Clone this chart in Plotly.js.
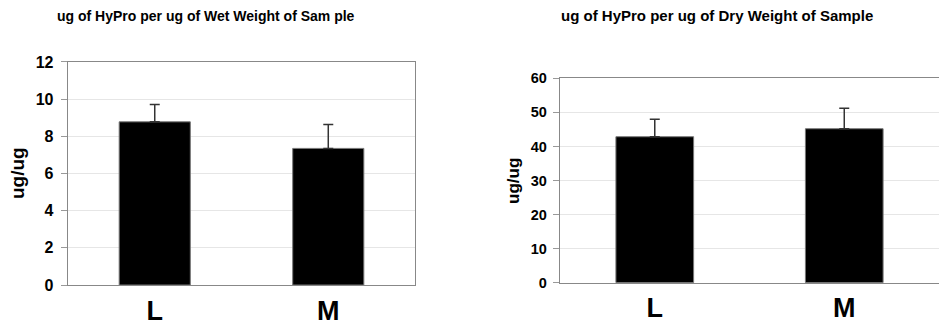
<!DOCTYPE html>
<html><head><meta charset="utf-8">
<script src="https://cdn.plot.ly/plotly-3.0.1.min.js"></script>
<style>html,body{margin:0;padding:0;background:#fff}#c{width:939px;height:329px}</style>
</head><body><div id="c"></div>
<script>
const categories = ['L', 'M'];
const wetValues = [8.78, 7.35];
const wetErrors = [0.93, 1.29];
const dryValues = [42.85, 45.2];
const dryErrors = [5.1, 6.0];
const wetTitle = 'ug of HyPro per ug of Wet Weight of Sam ple';
const dryTitle = 'ug of HyPro per ug of Dry Weight of Sample';
const yLabel = 'ug/ug';

const F = 'Liberation Sans, Arial, sans-serif';
function bar(x, y, err, xa, ya) {
  return {
    type: 'bar', x: x, y: y, xaxis: xa, yaxis: ya,
    width: 0.41,
    marker: {color: '#000', line: {color: '#777', width: 1}},
    error_y: {type: 'data', array: err, symmetric: false, arrayminus: err.map(() => 0),
      color: '#333', thickness: 1.5, width: 5},
    hoverinfo: 'none', showlegend: false
  };
}
const xCommon = {
  type: 'category', showgrid: false, zeroline: false, showline: true, linecolor: '#888', linewidth: 1.3,
  mirror: true, ticks: '', tickfont: {family: F, size: 27, weight: 'bold', color: '#000'},
  ticklabelstandoff: 1, fixedrange: true
};
const yCommon = {
  showgrid: true, gridcolor: '#e6e6e6', gridwidth: 1, zeroline: false, showline: true, linecolor: '#888',
  linewidth: 1.3, mirror: true, ticks: 'outside', ticklen: 6, tickcolor: '#999',
  tickfont: {family: F, size: 16, weight: 'bold', color: '#000'}, fixedrange: true
};
const layout = {
  width: 939, height: 329, margin: {l: 0, r: 0, t: 0, b: 0},
  paper_bgcolor: '#fff', plot_bgcolor: '#fff',
  xaxis: Object.assign({}, xCommon, {domain: [0.0724, 0.442], anchor: 'y'}),
  yaxis: Object.assign({}, yCommon, {domain: [0.1337, 0.8116], range: [0, 12], dtick: 2, anchor: 'x',
    ticklabelstandoff: 4}),
  xaxis2: Object.assign({}, xCommon, {domain: [0.5964, 1.0], anchor: 'y2'}),
  yaxis2: Object.assign({}, yCommon, {domain: [0.1407, 0.762], range: [0, 60], dtick: 10, anchor: 'x2',
    tickfont: {family: F, size: 14.5, weight: 'bold', color: '#000'}, ticklabelstandoff: 3}),
  annotations: [
    {text: wetTitle, x: 206, y: 16, showarrow: false,
      font: {family: F, size: 14, weight: 'bold', color: '#000'}},
    {text: dryTitle, x: 717, y: 15, showarrow: false,
      font: {family: F, size: 15, weight: 'bold', color: '#000'}},
    {text: yLabel, x: 17, y: 173, textangle: -90, showarrow: false,
      font: {family: F, size: 19, weight: 'bold', color: '#000'}},
    {text: yLabel, x: 513, y: 181, textangle: -90, showarrow: false,
      font: {family: F, size: 17, weight: 'bold', color: '#000'}}
  ]
};
layout.annotations.forEach(a => {
  a.xref = 'paper'; a.yref = 'paper';
  a.x = a.x / 939; a.y = 1 - a.y / 329;
  a.xanchor = 'center'; a.yanchor = 'middle';
});
Plotly.newPlot('c', [
  bar(categories, wetValues, wetErrors, 'x', 'y'),
  bar(categories, dryValues, dryErrors, 'x2', 'y2')
], layout, {staticPlot: true});
</script></body></html>
